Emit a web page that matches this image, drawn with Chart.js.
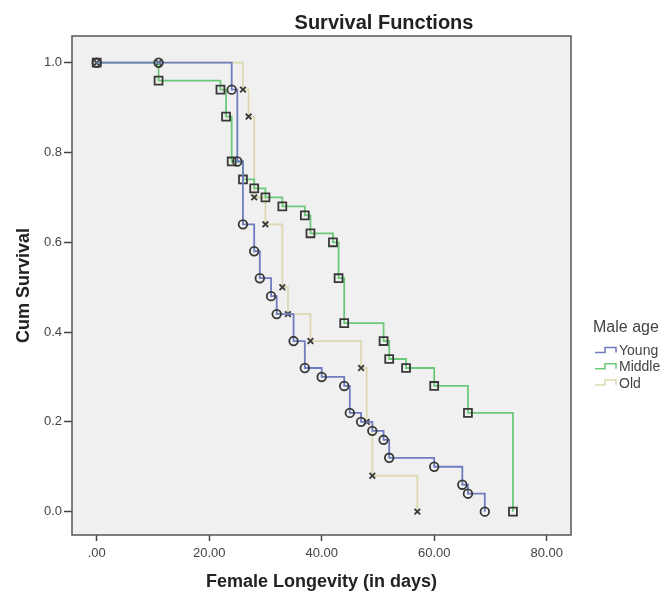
<!DOCTYPE html>
<html>
<head>
<meta charset="utf-8">
<script src="https://cdn.jsdelivr.net/npm/chart.js@4/dist/chart.umd.min.js"></script>
<style>
body { margin: 0; background: #fff; }
</style>
</head>
<body>
<canvas id="mycanvas" width="672" height="595"></canvas>
<script>
// Kaplan-Meier steps (time in days, cumulative survival)
var youngTime = [0, 11, 24, 25, 26, 28, 29, 31, 32, 35, 37, 40, 44, 45, 47, 49, 51, 52, 60, 65, 66, 69];
var youngSurv = [1.0, 1.0, 0.94, 0.78, 0.64, 0.58, 0.52, 0.48, 0.44, 0.38, 0.32, 0.30, 0.28, 0.22, 0.20, 0.18, 0.16, 0.12, 0.10, 0.06, 0.04, 0.0];

var middleTime = [0, 11, 22, 23, 24, 26, 28, 30, 33, 37, 38, 42, 43, 44, 51, 52, 55, 60, 66, 74];
var middleSurv = [1.0, 0.96, 0.94, 0.88, 0.78, 0.74, 0.72, 0.70, 0.68, 0.66, 0.62, 0.60, 0.52, 0.42, 0.38, 0.34, 0.32, 0.28, 0.22, 0.0];

var oldTime = [0, 11, 26, 27, 28, 30, 33, 34, 38, 47, 48, 49, 57];
var oldSurv = [1.0, 1.0, 0.94, 0.88, 0.70, 0.64, 0.50, 0.44, 0.38, 0.32, 0.20, 0.08, 0.0];

var groupNames = ['Young', 'Middle', 'Old'];
var xTickValues = [0, 20, 40, 60, 80];
var xTickLabels = ['.00', '20.00', '40.00', '60.00', '80.00'];
var yTickValues = [0, 0.2, 0.4, 0.6, 0.8, 1.0];
var yTickLabels = ['0.0', '0.2', '0.4', '0.6', '0.8', '1.0'];

var lineColors = ['#6f7cc0', '#6cc879', '#ddd8b0'];

function pairs(t, s) {
  return t.map(function (v, i) { return { x: v, y: s[i] }; });
}

Chart.defaults.font.family = '"Liberation Sans", Arial, sans-serif';
Chart.defaults.color = '#444';

var frame = {
  id: 'frame',
  beforeDraw: function (chart) {
    var a = chart.chartArea, c = chart.ctx;
    c.save();
    c.fillStyle = '#f0f0f0';
    c.fillRect(a.left, a.top, a.right - a.left, a.bottom - a.top);
    c.restore();
  },
  afterDraw: function (chart) {
    var a = chart.chartArea, c = chart.ctx;
    c.save();
    c.strokeStyle = '#555';
    c.lineWidth = 1.5;
    c.strokeRect(a.left, a.top, a.right - a.left, a.bottom - a.top);

    // title
    c.fillStyle = '#222';
    c.font = 'bold 20px "Liberation Sans", Arial, sans-serif';
    c.textAlign = 'center';
    c.textBaseline = 'alphabetic';
    c.fillText('Survival Functions', 384, 29);

    // legend
    c.textAlign = 'left';
    c.fillStyle = '#444';
    c.font = '16px "Liberation Sans", Arial, sans-serif';
    c.fillText('Male age', 593, 332);
    c.font = '14px "Liberation Sans", Arial, sans-serif';
    groupNames.forEach(function (name, i) {
      var base = 355 + i * 16.3;
      var lo = base - 2.5, hi = base - 7.5;
      c.strokeStyle = lineColors[i];
      c.lineWidth = 1.5;
      c.beginPath();
      c.moveTo(595, lo);
      c.lineTo(605, lo);
      c.lineTo(605, hi);
      c.lineTo(616, hi);
      c.lineTo(616, lo);
      c.stroke();
      c.fillStyle = '#444';
      c.fillText(name, 619, base);
    });
    c.restore();
  }
};

var chartdata = {
  datasets: [
    {
      label: groupNames[0],
      data: pairs(youngTime, youngSurv),
      borderColor: lineColors[0],
      pointStyle: 'circle',
      pointRadius: 4.3
    },
    {
      label: groupNames[1],
      data: pairs(middleTime, middleSurv),
      borderColor: lineColors[1],
      pointStyle: 'rect',
      pointRadius: 5.6
    },
    {
      label: groupNames[2],
      data: pairs(oldTime, oldSurv),
      borderColor: lineColors[2],
      pointStyle: 'crossRot',
      pointRadius: 4
    }
  ]
};
chartdata.datasets.forEach(function (d) {
  d.stepped = true;
  d.borderWidth = 1.8;
  d.pointBorderColor = '#383838';
  d.pointBackgroundColor = 'rgba(0,0,0,0)';
  d.pointBorderWidth = 1.8;
  d.pointHoverRadius = d.pointRadius;
});

var ctx = document.querySelector('#mycanvas');

var survivalChart = new Chart(ctx, {
  type: 'line',
  data: chartdata,
  plugins: [frame],
  options: {
    responsive: false,
    animation: false,
    devicePixelRatio: 1,
    layout: { padding: { left: 0, right: 101, top: 36, bottom: 0 } },
    plugins: { legend: { display: false }, tooltip: { enabled: false } },
    scales: {
      x: {
        type: 'linear',
        min: -4.39,
        max: 84.32,
        afterBuildTicks: function (s) { s.ticks = xTickValues.map(function (v) { return { value: v }; }); },
        afterFit: function (s) { s.height = 60; },
        ticks: {
          padding: 5,
          font: { size: 13 },
          color: '#444',
          maxRotation: 0,
          callback: function (v) { return xTickLabels[xTickValues.indexOf(v)]; }
        },
        grid: { drawOnChartArea: false, tickLength: 6, tickColor: '#444', tickWidth: 1.5 },
        border: { display: false },
        title: {
          display: true,
          text: 'Female Longevity (in days)',
          font: { size: 18, weight: 'bold' },
          color: '#222',
          padding: { top: 0, bottom: 2 }
        }
      },
      y: {
        type: 'linear',
        min: -0.052,
        max: 1.0595,
        afterBuildTicks: function (s) { s.ticks = yTickValues.map(function (v) { return { value: v }; }); },
        afterFit: function (s) { s.width = 72; },
        ticks: {
          padding: 2,
          font: { size: 13 },
          color: '#444',
          callback: function (v) { return yTickLabels[yTickValues.indexOf(v)]; }
        },
        grid: { drawOnChartArea: false, tickLength: 8, tickColor: '#444', tickWidth: 1.5 },
        border: { display: false },
        title: {
          display: true,
          text: 'Cum Survival',
          font: { size: 18, weight: 'bold' },
          color: '#222',
          padding: { top: 13, bottom: 0 }
        }
      }
    }
  }
});
</script>
</body>
</html>
